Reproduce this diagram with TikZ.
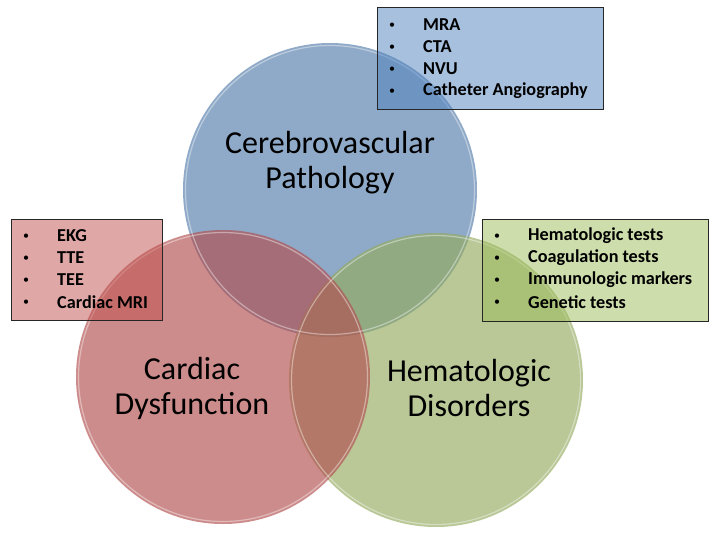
\documentclass[tikz,border=0pt]{standalone}
\usepackage{fontspec}
\setmainfont{Carlito}
\definecolor{cblue}{RGB}{83,124,170}
\definecolor{cred}{RGB}{178,78,78}
\definecolor{cgreen}{RGB}{147,170,94}
\definecolor{bblue}{HTML}{4F81BD}
\definecolor{bred}{HTML}{C0504D}
\definecolor{bgreen}{HTML}{9BBB59}
\tikzset{
  venn/.style={circle, minimum size=294pt, inner sep=0pt, fill opacity=0.65},
  rim/.style={circle, minimum size=289pt, inner sep=0pt, draw=white, draw opacity=0.4, line width=1.2pt},
  biglabel/.style={align=center, font=\fontsize{32}{35}\selectfont, text=black},
  listbox/.style={draw=black!85, line width=1.1pt, fill opacity=0.5, anchor=north west, inner sep=0pt},
  bul/.style={font=\fontsize{12}{14}\selectfont, anchor=center, inner sep=0pt},
  item/.style={font=\fontsize{18.2}{20}\selectfont\bfseries, anchor=west, inner sep=0pt},
}
\begin{document}
\begin{tikzpicture}[x=1pt,y=-1pt]
\useasboundingbox (0,0) rectangle (721,538);
% circles (blue, then green, then red on top)
\node[venn, fill=cblue] (cb) at (330,190) {};
\node[venn, fill=cgreen] (cg) at (436,380) {};
\node[venn, fill=cred] (cr) at (223,377) {};
\node[rim] (rb) at (330,190) {};
\node[rim] (rg) at (436,380) {};
\node[rim] (rr) at (223,377) {};
% circle labels
\node[biglabel] (lb) at (330,163) {Cerebrovascular\\Pathology};
\node[biglabel] (lr) at (192,388) {Cardiac\\Dysfunction};
\node[biglabel] (lg) at (469,388) {Hematologic\\Disorders};
% blue box
\node[listbox, fill=bblue, minimum width=226pt, minimum height=102pt] (bb) at (377,7) {};
\foreach \t [count=\i] in {MRA,CTA,NVU,Catheter Angiography}{
  \node[bul] (bbu\i) at (392,{26+22*(\i-1)}) {•};
  \node[item] (bbi\i) at (423,{25+22*(\i-1)}) {\t};
}
% red box
\node[listbox, fill=bred, minimum width=151pt, minimum height=101pt] (rbx) at (11,219) {};
\foreach \t [count=\i] in {EKG,TTE,TEE,Cardiac MRI}{
  \node[bul] (rbu\i) at (26,{237+22*(\i-1)}) {•};
  \node[item] (rbi\i) at (57,{236+22*(\i-1)}) {\t};
}
% green box
\node[listbox, fill=bgreen, minimum width=226pt, minimum height=102pt] (gbx) at (482,219) {};
\foreach \t [count=\i] in {Hematologic tests,Coagulation tests,Immunologic markers,Genetic tests}{
  \node[bul] (gbu\i) at (497,{237+22*(\i-1)}) {•};
  \node[item] (gbi\i) at (528,{236+22*(\i-1)}) {\t};
}
\end{tikzpicture}
\end{document}
